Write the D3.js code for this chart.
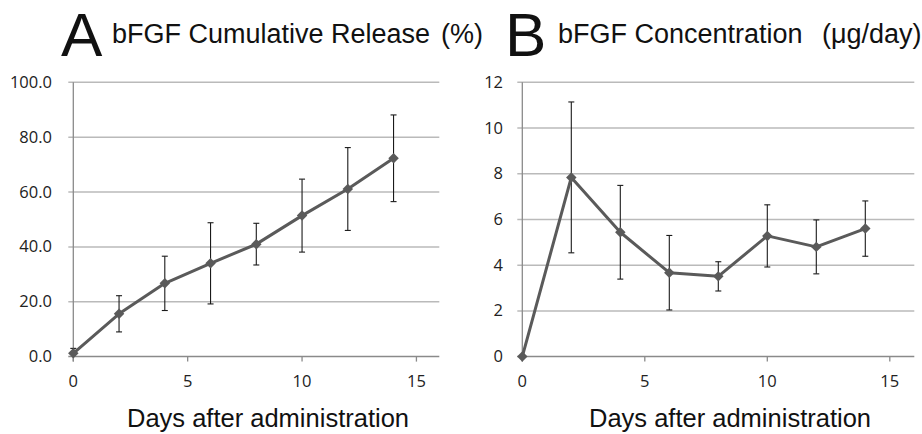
<!DOCTYPE html>
<html lang="en">
  <head>
    <title>bFGF release</title>
    <script src="https://d3js.org/d3.v7.min.js"></script>
    <style>
      body {
        margin: 0;
        background-color: #fff;
      }
      .tick-label {
        font-family: "Open Sans", sans-serif;
        font-size: 16.5px;
        fill: #222;
      }
      .title {
        font-family: "Liberation Sans", Arial, sans-serif;
        fill: #111;
      }
    </style>
  </head>
  <body>
    <div id="chart"></div>
    <script>
      // data
      const days = [0, 2, 4, 6, 8, 10, 12, 14];
      const releaseMean = [1.2, 15.6, 26.7, 34.0, 41.0, 51.4, 61.1, 72.3];
      const releaseErr = [1.8, 6.6, 9.9, 14.8, 7.6, 13.3, 15.1, 15.8];
      const concMean = [0, 7.84, 5.44, 3.67, 3.51, 5.28, 4.8, 5.6];
      const concErr = [0, 3.3, 2.05, 1.63, 0.64, 1.36, 1.18, 1.21];
      const releaseTicks = [0, 20, 40, 60, 80, 100];
      const concTicks = [0, 2, 4, 6, 8, 10, 12];
      const dayTicks = [0, 5, 10, 15];

      const width = 922;
      const height = 434;

      const svg = d3
        .select("#chart")
        .append("svg")
        .attr("width", width)
        .attr("height", height);

      /** draws one panel */
      function panel(opts) {
        const x = d3.scaleLinear().domain([0, 16]).range([opts.left, opts.right]);
        const y = d3.scaleLinear().domain(opts.yDomain).range([356.6, 82.3]);
        const g = svg.append("g");

        // gridlines with little outside ticks
        g.selectAll(".grid")
          .data(opts.yTicks)
          .enter()
          .append("line")
          .attr("x1", opts.left - 5)
          .attr("x2", opts.right)
          .attr("y1", (d) => y(d))
          .attr("y2", (d) => y(d))
          .attr("stroke", (d) => (d === 0 ? "#8a8a8a" : "#bababa"))
          .attr("stroke-width", 1.5);

        // y axis line
        g.append("line")
          .attr("x1", opts.left)
          .attr("x2", opts.left)
          .attr("y1", y(opts.yDomain[1]))
          .attr("y2", y(0) + 5)
          .attr("stroke", "#8a8a8a")
          .attr("stroke-width", 1.3);

        // x ticks
        g.selectAll(".xt")
          .data(dayTicks)
          .enter()
          .append("line")
          .attr("x1", (d) => x(d))
          .attr("x2", (d) => x(d))
          .attr("y1", y(0))
          .attr("y2", y(0) + 5)
          .attr("stroke", "#8a8a8a")
          .attr("stroke-width", 1.3);

        g.selectAll(".xl")
          .data(dayTicks)
          .enter()
          .append("text")
          .attr("class", "tick-label")
          .attr("x", (d) => x(d))
          .attr("y", 387)
          .attr("text-anchor", "middle")
          .text((d) => d);

        g.selectAll(".yl")
          .data(opts.yTicks)
          .enter()
          .append("text")
          .attr("class", "tick-label")
          .attr("x", opts.labelX)
          .attr("y", (d) => y(d) + 5.5)
          .attr("text-anchor", "end")
          .text((d) => opts.fmt(d));

        const pts = days.map((d, i) => ({
          day: d,
          v: opts.mean[i],
          e: opts.err[i],
        }));

        // error bars
        const eb = g
          .selectAll(".eb")
          .data(pts.filter((p) => p.e > 0))
          .enter()
          .append("g")
          .attr("stroke", "#1a1a1a")
          .attr("stroke-width", 1.1);
        eb.append("line")
          .attr("x1", (p) => x(p.day))
          .attr("x2", (p) => x(p.day))
          .attr("y1", (p) => y(p.v + p.e))
          .attr("y2", (p) => y(Math.max(0, p.v - p.e)));
        eb.append("line")
          .attr("x1", (p) => x(p.day) - 3)
          .attr("x2", (p) => x(p.day) + 3)
          .attr("y1", (p) => y(p.v + p.e))
          .attr("y2", (p) => y(p.v + p.e));
        eb.filter((p) => p.v - p.e > 0)
          .append("line")
          .attr("x1", (p) => x(p.day) - 3)
          .attr("x2", (p) => x(p.day) + 3)
          .attr("y1", (p) => y(p.v - p.e))
          .attr("y2", (p) => y(p.v - p.e));

        const line = d3
          .line()
          .x((p) => x(p.day))
          .y((p) => y(p.v));
        g.append("path")
          .datum(pts)
          .attr("d", line)
          .attr("fill", "none")
          .attr("stroke", "#5a5a5a")
          .attr("stroke-width", 3)
          .attr("stroke-linejoin", "round");

        g.selectAll(".mk")
          .data(pts)
          .enter()
          .append("path")
          .attr("d", d3.symbol(d3.symbolDiamond2, 70))
          .attr("transform", (p) => `translate(${x(p.day)},${y(p.v)})`)
          .attr("fill", "#5a5a5a");

        // titles
        svg.append("text")
          .attr("class", "title")
          .attr("x", opts.letterX)
          .attr("y", 56)
          .attr("font-size", 62)
          .text(opts.letter);
        svg.append("text")
          .attr("class", "title")
          .attr("x", opts.titleX)
          .attr("y", 43)
          .attr("font-size", 27)
          .text(opts.title);
        svg.append("text")
          .attr("class", "title")
          .attr("x", opts.unitX)
          .attr("y", 43)
          .attr("font-size", 27)
          .text(opts.unit);
        svg.append("text")
          .attr("class", "title")
          .attr("x", opts.axisX)
          .attr("y", 427)
          .attr("font-size", 25.5)
          .attr("text-anchor", "middle")
          .text("Days after administration");
      }

      panel({
        left: 73.3,
        right: 439.3,
        yDomain: [0, 100],
        yTicks: releaseTicks,
        fmt: (d) => d.toFixed(1),
        labelX: 52,
        mean: releaseMean,
        err: releaseErr,
        letter: "A",
        letterX: 61,
        title: "bFGF Cumulative Release",
        titleX: 112,
        unit: "(%)",
        unitX: 441,
        axisX: 268,
      });

      panel({
        left: 522.3,
        right: 914.3,
        yDomain: [0, 12],
        yTicks: concTicks,
        fmt: (d) => d,
        labelX: 503,
        mean: concMean,
        err: concErr,
        letter: "B",
        letterX: 505,
        title: "bFGF Concentration",
        titleX: 558,
        unit: "(μg/day)",
        unitX: 822,
        axisX: 730,
      });
    </script>
  </body>
</html>
